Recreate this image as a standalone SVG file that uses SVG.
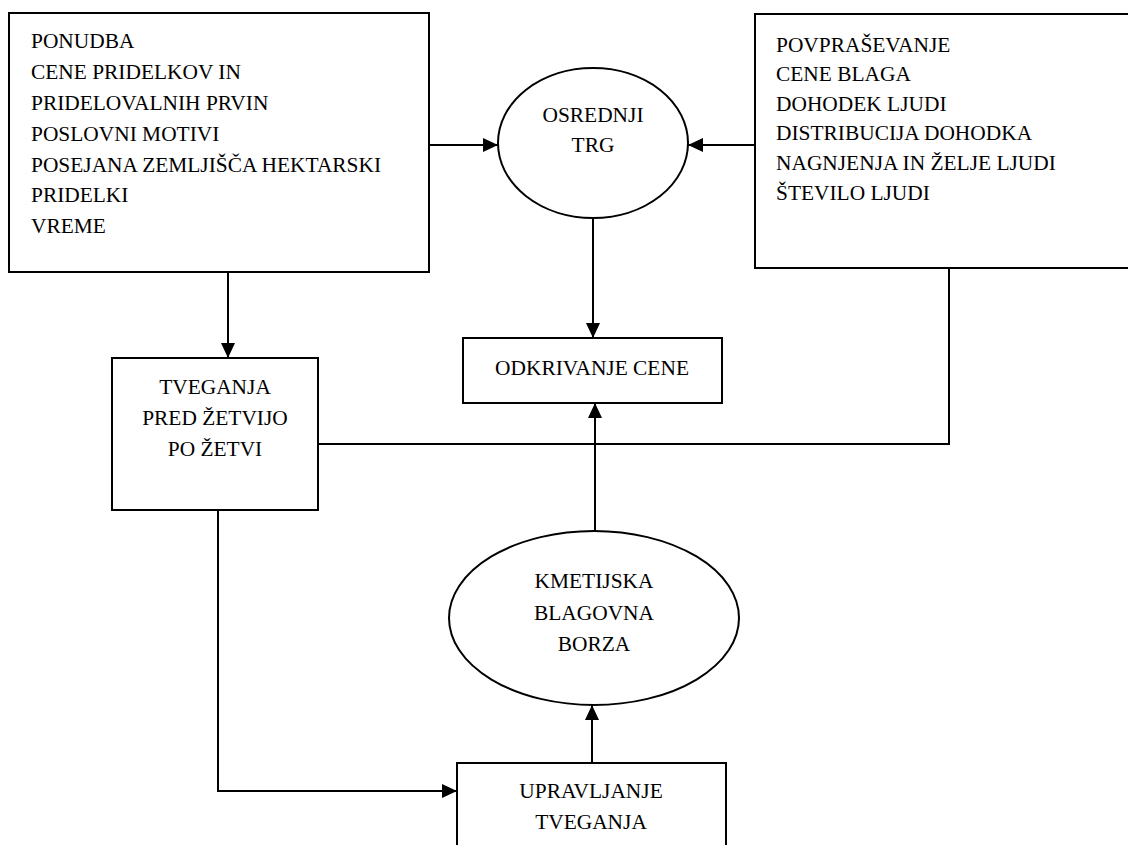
<svg xmlns="http://www.w3.org/2000/svg" width="1128" height="845" viewBox="0 0 1128 845">
<style>
.box{fill:#fff;stroke:#000;stroke-width:2}
.t{font-family:"Liberation Serif","Times New Roman",serif;font-size:21.4px;fill:#000}
.c{text-anchor:middle}
.ln{fill:none;stroke:#000;stroke-width:2}
</style>
<defs>
<marker id="ah" viewBox="0 0 15 14" refX="15" refY="7" markerWidth="15" markerHeight="14" markerUnits="userSpaceOnUse" orient="auto">
<path d="M0,0 L15,7 L0,14 Z" fill="#000"/>
</marker>
</defs>
<rect width="1128" height="845" fill="#fff"/>
<g id="connectors">
<line class="ln" x1="429" y1="145" x2="498" y2="145" marker-end="url(#ah)"/>
<line class="ln" x1="755" y1="145" x2="688" y2="145" marker-end="url(#ah)"/>
<line class="ln" x1="593" y1="218" x2="593" y2="338" marker-end="url(#ah)"/>
<line class="ln" x1="228" y1="272" x2="228" y2="358" marker-end="url(#ah)"/>
<polyline class="ln" points="318,444 949,444 949,268"/>
<line class="ln" x1="595" y1="531" x2="595" y2="403" marker-end="url(#ah)"/>
<line class="ln" x1="592" y1="763" x2="592" y2="705" marker-end="url(#ah)"/>
<polyline class="ln" points="218,510 218,791 457,791" marker-end="url(#ah)"/>
</g>
<g id="ponudba">
<rect class="box" x="9" y="13" width="420" height="259"/>
<text class="t" x="31" y="48">PONUDBA</text>
<text class="t" x="31" y="79">CENE PRIDELKOV IN</text>
<text class="t" x="31" y="110">PRIDELOVALNIH PRVIN</text>
<text class="t" x="31" y="141">POSLOVNI MOTIVI</text>
<text class="t" x="31" y="172">POSEJANA ZEMLJIŠČA HEKTARSKI</text>
<text class="t" x="31" y="202">PRIDELKI</text>
<text class="t" x="31" y="233">VREME</text>
</g>
<g id="povprasevanje">
<rect class="box" x="755" y="14" width="380" height="254"/>
<text class="t" x="776" y="52">POVPRAŠEVANJE</text>
<text class="t" x="776" y="81">CENE BLAGA</text>
<text class="t" x="776" y="111">DOHODEK LJUDI</text>
<text class="t" x="776" y="140">DISTRIBUCIJA DOHODKA</text>
<text class="t" x="776" y="170">NAGNJENJA IN ŽELJE LJUDI</text>
<text class="t" x="776" y="200">ŠTEVILO LJUDI</text>
</g>
<g id="osrednji-trg">
<ellipse class="box" cx="593" cy="143" rx="95" ry="75"/>
<text class="t c" x="593" y="122">OSREDNJI</text>
<text class="t c" x="593" y="152">TRG</text>
</g>
<g id="odkrivanje-cene">
<rect class="box" x="463" y="338" width="259" height="65"/>
<text class="t c" x="592" y="375">ODKRIVANJE CENE</text>
</g>
<g id="tveganja">
<rect class="box" x="112" y="358" width="206" height="152"/>
<text class="t c" x="215" y="394">TVEGANJA</text>
<text class="t c" x="215" y="425">PRED ŽETVIJO</text>
<text class="t c" x="215" y="456">PO ŽETVI</text>
</g>
<g id="borza">
<ellipse class="box" cx="594" cy="618" rx="145" ry="87"/>
<text class="t c" x="594" y="588">KMETIJSKA</text>
<text class="t c" x="594" y="620">BLAGOVNA</text>
<text class="t c" x="594" y="651">BORZA</text>
</g>
<g id="upravljanje">
<rect class="box" x="457" y="763" width="269" height="100"/>
<text class="t c" x="591" y="798">UPRAVLJANJE</text>
<text class="t c" x="591" y="829">TVEGANJA</text>
</g>
</svg>
